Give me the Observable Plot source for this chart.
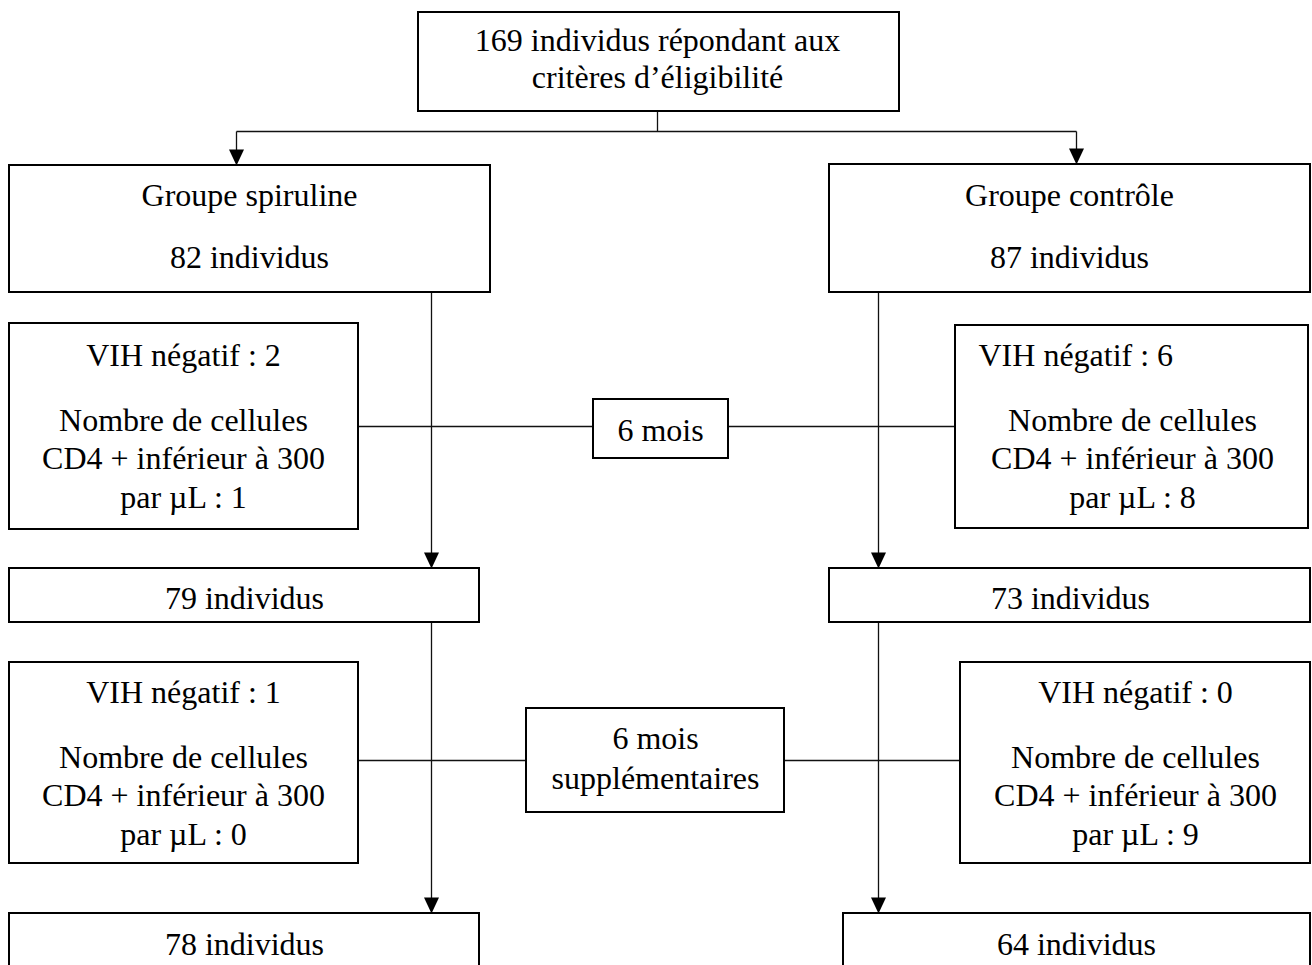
<!DOCTYPE html>
<html>
<head>
<meta charset="utf-8">
<script src="https://cdn.jsdelivr.net/npm/d3@7"></script>
<script src="https://cdn.jsdelivr.net/npm/@observablehq/plot@0.6"></script>
<style>
  html, body { margin: 0; padding: 0; background: white; }
</style>
</head>
<body>
<div id="chart"></div>
<script>
const totalEligible = 169;
const groupNames = ["Groupe spiruline", "Groupe contrôle"];
const groupStart = [82, 87];
const vihNeg6 = [2, 6];
const cd4Low6 = [1, 8];
const groupAfter6 = [79, 73];
const vihNeg12 = [1, 0];
const cd4Low12 = [0, 9];
const groupAfter12 = [78, 64];
const periodLabels = [["6 mois"], ["6 mois", "supplémentaires"]];

// ---- Layout (pixel geometry of the diagram) ----
const boxes = [
  {id: "total", x1: 418, x2: 899, y1: 12,  y2: 111},
  {id: "g0",    x1: 9,   x2: 490, y1: 165, y2: 292},
  {id: "g1",    x1: 829, x2: 1310, y1: 164, y2: 292},
  {id: "v0a",   x1: 9,   x2: 358, y1: 323, y2: 529},
  {id: "v1a",   x1: 955, x2: 1308, y1: 325, y2: 528},
  {id: "p0",    x1: 593, x2: 728, y1: 399, y2: 458},
  {id: "n0a",   x1: 9,   x2: 479, y1: 568, y2: 622},
  {id: "n1a",   x1: 829, x2: 1310, y1: 568, y2: 622},
  {id: "v0b",   x1: 9,   x2: 358, y1: 662, y2: 863},
  {id: "v1b",   x1: 960, x2: 1310, y1: 662, y2: 863},
  {id: "p1",    x1: 526, x2: 784, y1: 708, y2: 812},
  {id: "n0b",   x1: 9,   x2: 479, y1: 913, y2: 980},
  {id: "n1b",   x1: 843, x2: 1310, y1: 913, y2: 980}
];

const connectors = [
  {x1: 657, y1: 111, x2: 657, y2: 131},
  {x1: 236, y1: 131, x2: 1076, y2: 131},
  {x1: 236, y1: 131, x2: 236, y2: 160},
  {x1: 1076, y1: 131, x2: 1076, y2: 160},
  {x1: 431, y1: 292, x2: 431, y2: 560},
  {x1: 878, y1: 292, x2: 878, y2: 560},
  {x1: 431, y1: 622, x2: 431, y2: 905},
  {x1: 878, y1: 622, x2: 878, y2: 905},
  {x1: 358, y1: 426, x2: 593, y2: 426},
  {x1: 728, y1: 426, x2: 955, y2: 426},
  {x1: 358, y1: 760, x2: 526, y2: 760},
  {x1: 784, y1: 760, x2: 960, y2: 760}
];

const arrowTips = [
  {x: 236, y: 165}, {x: 1076, y: 164},
  {x: 431, y: 568}, {x: 878, y: 568},
  {x: 431, y: 913}, {x: 878, y: 913}
];

// ---- Text lines built from the data ----
const cx = [249, 1069];
const vx6 = [183, 1132];
const vx12 = [183, 1135];
const nx6 = [244, 1070];
const nx12 = [244, 1076];
const texts = [
  {t: `${totalEligible} individus répondant aux`, x: 657, y: 50},
  {t: "critères d’éligibilité", x: 657, y: 87}
];
[0, 1].forEach(i => {
  texts.push({t: groupNames[i], x: cx[i], y: 205});
  texts.push({t: `${groupStart[i]} individus`, x: cx[i], y: 267});
  if (i === 1) {
    texts.push({t: `VIH négatif : ${vihNeg6[i]}`, x: 978, y: 365, anchor: "start"});
  } else {
    texts.push({t: `VIH négatif : ${vihNeg6[i]}`, x: vx6[i], y: 365});
  }
  texts.push({t: "Nombre de cellules", x: vx6[i], y: 430});
  texts.push({t: "CD4 + inférieur à 300", x: vx6[i], y: 468});
  texts.push({t: `par µL : ${cd4Low6[i]}`, x: vx6[i], y: 507});
  texts.push({t: `${groupAfter6[i]} individus`, x: nx6[i], y: 608});
  texts.push({t: `VIH négatif : ${vihNeg12[i]}`, x: vx12[i], y: 702});
  texts.push({t: "Nombre de cellules", x: vx12[i], y: 767});
  texts.push({t: "CD4 + inférieur à 300", x: vx12[i], y: 805});
  texts.push({t: `par µL : ${cd4Low12[i]}`, x: vx12[i], y: 844});
  texts.push({t: `${groupAfter12[i]} individus`, x: nx12[i], y: 954});
});
texts.push({t: periodLabels[0][0], x: 660, y: 440});
texts.push({t: periodLabels[1][0], x: 655, y: 748});
texts.push({t: periodLabels[1][1], x: 655, y: 788});

// custom filled arrowhead symbol with its tip at the origin
const arrowHead = {
  draw(ctx) {
    ctx.moveTo(-7.5, -16);
    ctx.lineTo(7.5, -16);
    ctx.lineTo(0, 0);
    ctx.closePath();
  }
};

const font = "'Liberation Serif', 'Times New Roman', serif";

const chart = Plot.plot({
  width: 1312,
  height: 965,
  margin: 0,
  style: {background: "white"},
  x: {domain: [0, 1312], range: [0, 1312], axis: null},
  y: {domain: [0, 965], range: [0, 965], axis: null},
  marks: [
    Plot.link(connectors, {x1: "x1", y1: "y1", x2: "x2", y2: "y2", stroke: "#111", strokeWidth: 1.3}),
    Plot.rect(boxes, {x1: "x1", x2: "x2", y1: "y1", y2: "y2", fill: "white", stroke: "black", strokeWidth: 2}),
    Plot.dot(arrowTips, {x: "x", y: "y", symbol: arrowHead, r: 5, fill: "black", stroke: "none"}),
    Plot.text(texts.filter(d => d.anchor === "start"), {x: "x", y: "y", text: "t", textAnchor: "start", lineAnchor: "bottom", fontSize: 32, fontFamily: font, fill: "black"}),
    Plot.text(texts.filter(d => d.anchor !== "start"), {x: "x", y: "y", text: "t", textAnchor: "middle", lineAnchor: "bottom", fontSize: 32, fontFamily: font, fill: "black"})
  ]
});
document.getElementById("chart").appendChild(chart);
</script>
</body>
</html>
